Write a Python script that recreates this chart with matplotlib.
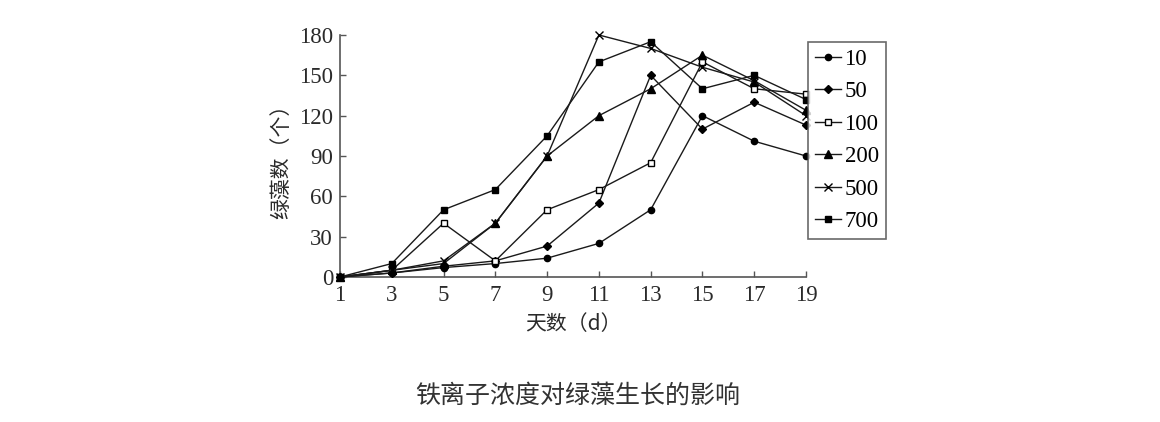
import numpy as np
import matplotlib.pyplot as plt

plt.rcParams['font.family'] = ['Liberation Serif', 'Noto Sans CJK SC']

days = [1, 3, 5, 7, 9, 11, 13, 15, 17, 19]
c10 = [0, 3, 7, 10, 14, 25, 50, 120, 101, 90]
c50 = [0, 3, 8, 12, 23, 55, 150, 110, 130, 113]
c100 = [0, 5, 40, 12, 50, 65, 85, 160, 140, 136]
c200 = [0, 5, 10, 40, 90, 120, 140, 165, 146, 124]
c500 = [0, 5, 12, 40, 90, 180, 170, 156, 145, 120]
c700 = [0, 10, 50, 65, 105, 160, 175, 140, 150, 132]

labels = ["10", "50", "100", "200", "500", "700"]
series = [c10, c50, c100, c200, c500, c700]
styles = [
    dict(marker="o", markersize=4.5, markerfacecolor="black"),
    dict(marker="D", markersize=3.8, markerfacecolor="black"),
    dict(marker="s", markersize=4.5, markerfacecolor="white"),
    dict(marker="^", markersize=5.5, markerfacecolor="black"),
    dict(marker="x", markersize=5.5, markeredgewidth=1.0),
    dict(marker="s", markersize=5, markerfacecolor="black"),
]

fig = plt.figure(figsize=(11.6, 4.22), dpi=100)
ax = fig.add_axes([340 / 1160, 145 / 422, 466 / 1160, 242 / 422])

for vals, lab, st in zip(series, labels, styles):
    ax.plot(days, vals, color="#1a1a1a", linewidth=1.0, markeredgecolor="black",
            label=lab, clip_on=False, zorder=3, **st)

ax.set_xlim(1, 19)
ax.set_ylim(0, 180)
ax.set_xticks(days)
ax.set_yticks(np.arange(0, 181, 30))
ax.spines["top"].set_visible(False)
ax.spines["right"].set_visible(False)
for s in ["left", "bottom"]:
    ax.spines[s].set_color("#555555")
    ax.spines[s].set_linewidth(1.2)
ax.tick_params(direction="in", length=4, width=1, color="#555555",
               labelsize=16.5, labelcolor="#2a2a2a")
ax.tick_params(axis="x", pad=6)
ax.tick_params(axis="y", pad=5)

ax.set_xlabel("天数（d）", fontsize=15, color="#2a2a2a", labelpad=5,
              family=['Noto Sans CJK SC', 'Liberation Serif'])
ax.set_ylabel("绿藻数（个）", fontsize=15, color="#2a2a2a", labelpad=5,
              family=['Noto Sans CJK SC', 'Liberation Serif'])

leg = ax.legend(loc="upper left", bbox_to_anchor=(1.004, 0.972), fontsize=16.5,
                frameon=True, fancybox=False, edgecolor="#444444",
                handlelength=1.15, handletextpad=0.15, borderpad=0.3,
                labelspacing=0.5, borderaxespad=0)
leg.get_frame().set_linewidth(1.2)

fig.text(0.498, 0.062, "铁离子浓度对绿藻生长的影响", ha="center", va="center",
         fontsize=18, color="#333333", family=['Noto Sans CJK SC', 'DejaVu Sans'])

fig.savefig("out.png", dpi=100, facecolor="white")
